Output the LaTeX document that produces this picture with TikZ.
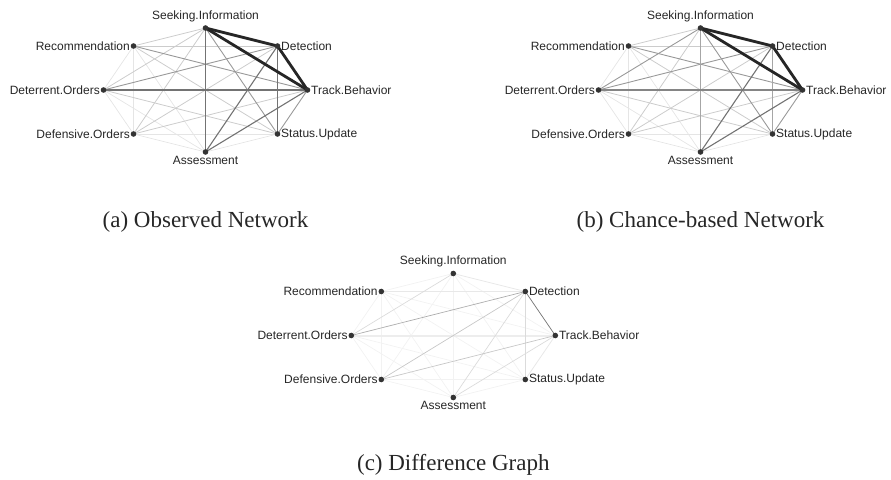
\documentclass[tikz,border=0pt]{standalone}
\usepackage{fontspec}
\setmainfont{Liberation Serif}
\newfontfamily\labelfont{Liberation Sans}
\begin{document}
\begin{tikzpicture}[x=1pt,y=-1pt,
  vdot/.style={circle,fill=black!80,inner sep=0pt,minimum size=5.6pt},
  lab/.style={font=\labelfont\fontsize{12}{13}\selectfont,text=black!85,inner sep=0pt},
  captext/.style={font=\fontsize{23}{26}\selectfont,text=black!85,inner sep=0pt},
  e5/.style={draw=black!85,line width=2.8pt},
  e4/.style={draw=black!55,line width=1.1pt},
  e3/.style={draw=black!40,line width=0.9pt},
  e2/.style={draw=black!20,line width=0.8pt},
  e1/.style={draw=black!10,line width=0.7pt},
  bA/.style={draw=black!35,line width=1.6pt},
  bO/.style={draw=black!48,line width=1.3pt},
  c6/.style={draw=black!55,line width=0.7pt},
  c5/.style={draw=black!32,line width=0.7pt},
  c4/.style={draw=black!22,line width=0.7pt},
  c3/.style={draw=black!14,line width=0.7pt},
  c2/.style={draw=black!9,line width=0.8pt},
  cw/.style={draw=black!7,line width=2pt},
  c1/.style={draw=black!5,line width=0.7pt}]
\useasboundingbox (0,0) rectangle (891,479);

% eight vertices on an ellipse, prefixed by #1, centred at #2
\newcommand\placevertices[2]{%
  \begin{scope}[shift={#2}]
    \coordinate (#1S) at (0,-62);
    \coordinate (#1D) at (72,-44);
    \coordinate (#1T) at (102,0);
    \coordinate (#1U) at (72,44);
    \coordinate (#1A) at (0,62);
    \coordinate (#1F) at (-72,44);
    \coordinate (#1O) at (-102,0);
    \coordinate (#1R) at (-72,-44);
  \end{scope}}
% dots and labels drawn on top of the edges
\newcommand\drawvertices[1]{%
  \foreach \v in {S,D,T,U,A,F,O,R} {\node[vdot] (#1\v dot) at (#1\v) {};}
  \node[lab,anchor=south] (#1Slab) at ([yshift=6pt]#1S) {Seeking.Information};
  \node[lab,anchor=west] (#1Dlab) at ([xshift=3.5pt]#1D) {Detection};
  \node[lab,anchor=west] (#1Tlab) at ([xshift=3.5pt]#1T) {Track.Behavior};
  \node[lab,anchor=west] (#1Ulab) at ([xshift=3.5pt]#1U) {Status.Update};
  \node[lab,anchor=north] (#1Alab) at ([yshift=-4pt]#1A) {Assessment};
  \node[lab,anchor=east] (#1Flab) at ([xshift=-3.5pt]#1F) {Defensive.Orders};
  \node[lab,anchor=east] (#1Olab) at ([xshift=-3.5pt]#1O) {Deterrent.Orders};
  \node[lab,anchor=east] (#1Rlab) at ([xshift=-3.5pt]#1R) {Recommendation};}

% (a) observed network
\placevertices{a}{(205.5,90)}
\foreach \u/\v/\s in {U/A/e1,U/F/e1,A/F/e1,A/O/e1,A/R/e1,F/O/e1,F/R/e1,O/R/e1,
  S/F/e2,S/O/e2,S/R/e2,D/F/e2,D/R/e2,T/F/e2,U/O/e2,U/R/e2,
  S/U/e3,D/O/e3,T/U/e3,T/R/e3,
  S/A/e4,D/U/e4,D/A/e4,T/A/e4,T/O/e4,
  S/D/e5,S/T/e5,D/T/e5}
  {\path[\s] (a\u) -- (a\v);}
\drawvertices{a}
\node[captext] (capa) at (205.5,222) {(a) Observed Network};

% (b) chance-based network
\placevertices{b}{(700.5,90)}
\foreach \u/\v/\s in {U/A/e1,U/F/e1,A/F/e1,A/O/e1,A/R/e1,F/O/e1,F/R/e1,O/R/e1,
  S/F/e2,S/R/e2,D/F/e2,D/R/e2,T/F/e2,U/O/e2,U/R/e2,
  S/O/e3,S/U/e3,D/O/e3,T/U/e3,T/R/e3,
  S/A/bA,D/U/bA,T/O/bO,D/A/e4,T/A/e4,
  S/D/e5,S/T/e5,D/T/e5}
  {\path[\s] (b\u) -- (b\v);}
\drawvertices{b}
\node[captext] (capb) at (700.5,222) {(b) Chance-based Network};

% (c) difference graph
\placevertices{c}{(453.3,335.5)}
\foreach \u/\v/\s in {U/A/c1,U/F/c1,A/F/c1,A/O/c1,A/R/c1,F/O/c1,F/R/c1,O/R/c1,
  S/F/c1,S/R/c1,U/O/c1,U/R/c1,S/U/c1,T/R/c1,
  S/A/c1,S/T/c1,S/D/c2,D/R/c2,T/U/c2,
  O/T/cw,S/O/c3,D/U/c3,A/T/c3,D/A/c3,
  F/T/c4,D/F/c4,D/O/c5,D/T/c6}
  {\path[\s] (c\u) -- (c\v);}
\drawvertices{c}
\node[captext] (capc) at (453.3,465) {(c) Difference Graph};
\end{tikzpicture}
\end{document}
